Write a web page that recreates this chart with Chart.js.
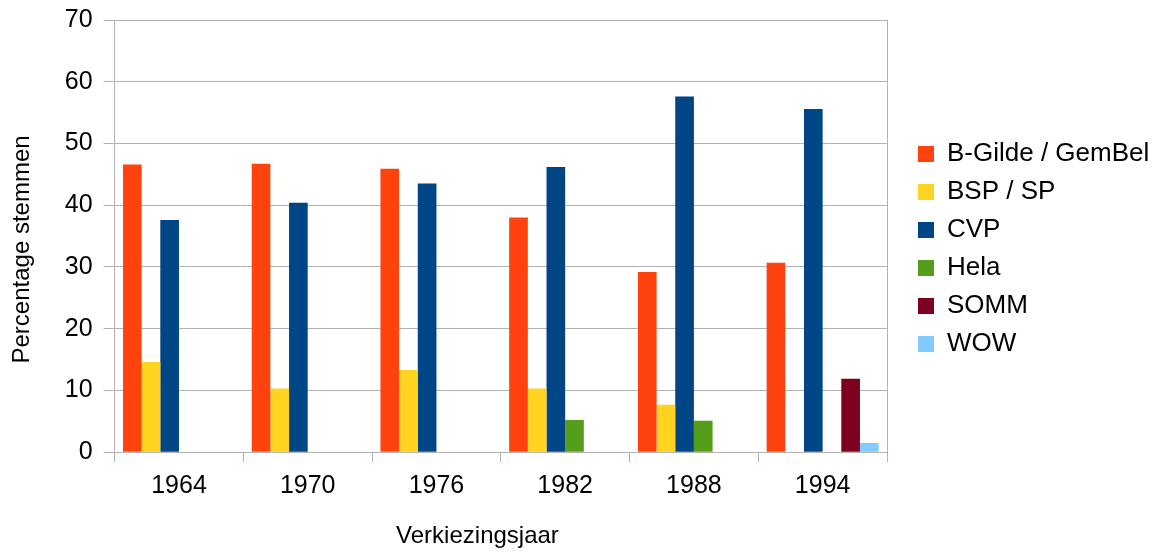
<html lang="nl">
<head>
    <meta charset="UTF-8">
    <title>Verkiezingen</title>
    <script src="https://cdn.jsdelivr.net/npm/chart.js"></script>
    <style>
        html, body { margin: 0; padding: 0; background: #fff; }
        #wrap { width: 1159px; height: 552px; }
    </style>
</head>
<body>
<div id="wrap"><canvas id="verkiezingChart" width="1159" height="552"></canvas></div>
<script>
    // Verkiezingsjaren en percentage stemmen per partij
    var jaren = ['1964', '1970', '1976', '1982', '1988', '1994'];
    var bGilde = [46.6, 46.7, 45.9, 38.0, 29.2, 30.7];
    var bsp = [14.6, 10.3, 13.3, 10.3, 7.7, null];
    var cvp = [37.6, 40.4, 43.5, 46.2, 57.6, 55.6];
    var hela = [null, null, null, 5.2, 5.1, null];
    var somm = [null, null, null, null, null, 11.9];
    var wow = [null, null, null, null, null, 1.5];

    var grijs = '#b3b3b3';
    var lettertype = 'Liberation Sans';
    // titels staan in het origineel niet precies in het midden van het grafiekvlak
    var opvulX = '\u00a0'.repeat(7);
    var opvulY = '\u00a0'.repeat(4);

    // rechterrand van het grafiekvlak + legende wat verschuiven
    var randPlugin = {
        id: 'rand',
        beforeUpdate: function (chart) {
            var lg = chart.legend;
            if (!lg || lg.verschoven) return;
            lg.verschoven = true;
            var fit = lg.fit;
            lg.fit = function () {
                fit.call(this);
                this.width = 272;
            };
            var draw = lg.draw;
            lg.draw = function (area) {
                this.left += 19; this.top += 13; this.bottom += 13;
                draw.call(this, area);
                this.left -= 19; this.top -= 13; this.bottom -= 13;
            };
        },
        afterDraw: function (chart) {
            var a = chart.chartArea;
            var ctx = chart.ctx;
            ctx.save();
            ctx.strokeStyle = grijs;
            ctx.lineWidth = 1;
            ctx.beginPath();
            ctx.moveTo(Math.round(a.right) + 0.5, a.top);
            ctx.lineTo(Math.round(a.right) + 0.5, a.bottom);
            ctx.stroke();
            ctx.restore();
        }
    };

    var ctx = document.getElementById('verkiezingChart').getContext('2d');
    var verkiezingChart = new Chart(ctx, {
        type: 'bar',
        data: {
            labels: jaren,
            datasets: [
                { label: 'B-Gilde / GemBel', data: bGilde, backgroundColor: '#ff420e' },
                { label: 'BSP / SP', data: bsp, backgroundColor: '#ffd320' },
                { label: 'CVP', data: cvp, backgroundColor: '#004586' },
                { label: 'Hela', data: hela, backgroundColor: '#579d1c' },
                { label: 'SOMM', data: somm, backgroundColor: '#7e0021' },
                { label: 'WOW', data: wow, backgroundColor: '#83caff' }
            ]
        },
        options: {
            responsive: false,
            animation: false,
            categoryPercentage: 0.87,
            barPercentage: 1.0,
            layout: { padding: 0 },
            plugins: {
                tooltip: { enabled: false },
                legend: {
                    position: 'right',
                    fullSize: false,
                    labels: {
                        boxWidth: 16,
                        boxHeight: 16,
                        padding: 12,
                        color: '#000',
                        font: { family: lettertype, size: 26 }
                    }
                }
            },
            scales: {
                x: {
                    grid: {
                        drawOnChartArea: false,
                        color: grijs,
                        tickLength: 10,
                        offset: true
                    },
                    border: { color: grijs },
                    ticks: {
                        color: '#000',
                        padding: 9,
                        font: { family: lettertype, size: 25 }
                    },
                    title: {
                        display: true,
                        text: 'Verkiezingsjaar' + opvulX,
                        color: '#000',
                        padding: { top: 12, bottom: 1 },
                        font: { family: lettertype, size: 24 }
                    }
                },
                y: {
                    min: 0,
                    max: 70,
                    grid: { color: grijs, tickLength: 11 },
                    border: { color: grijs },
                    ticks: {
                        stepSize: 10,
                        color: '#000',
                        padding: 11,
                        font: { family: lettertype, size: 25, lineHeight: 0.72 }
                    },
                    title: {
                        display: true,
                        text: 'Percentage stemmen' + opvulY,
                        color: '#000',
                        padding: { top: 8, bottom: 17 },
                        font: { family: lettertype, size: 24 }
                    }
                }
            }
        },
        plugins: [randPlugin]
    });
</script>
</body>
</html>
